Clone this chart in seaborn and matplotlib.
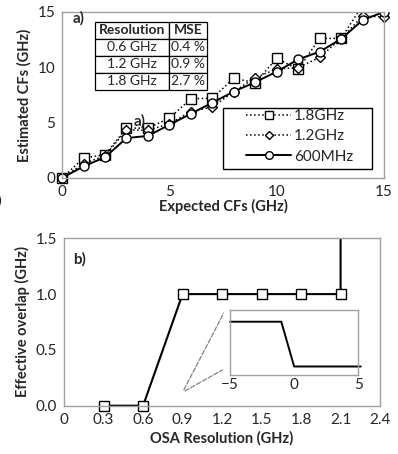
import numpy as np
import pandas as pd
import seaborn as sns
import matplotlib.pyplot as plt
import matplotlib as mpl
from matplotlib.patches import Rectangle

sns.set_style('white')
mpl.rcParams['font.family'] = ['Lato', 'DejaVu Sans']

# Panel a) data: expected vs estimated centre frequencies
expected = [0, 1, 2, 3, 4, 5, 6, 7, 8, 9, 10, 11, 12, 13, 14, 15]
est_18 = [0, 1.8, 2.1, 4.5, 4.5, 5.4, 7.15, 7.2, 9.0, 8.6, 10.8, 9.8, 12.6, 12.6, 15.6, 16.0]
est_12 = [0, 1.3, 2.0, 4.35, 4.3, 4.9, 6.0, 6.4, 7.8, 9.05, 9.85, 9.95, 10.9, 12.6, 14.6, 14.55]
est_06 = [0, 1.05, 1.87, 3.6, 3.8, 4.8, 5.8, 6.8, 7.8, 8.65, 9.6, 10.7, 11.4, 12.55, 14.25, 15.0]

table_rows = [['Resolution', 'MSE'],
              ['0.6 GHz', '0.4 %'],
              ['1.2 GHz', '0.9 %'],
              ['1.8 GHz', '2.7 %']]

# Panel b) data: effective overlap vs OSA resolution (last point off scale)
osa_res = [0.3, 0.6, 0.9, 1.2, 1.5, 1.8, 2.1, 2.1]
overlap = [0.0, 0.0, 1.0, 1.0, 1.0, 1.0, 1.0, 2.0]

# Inset: edge profile
inset_x = [-5, -1, 0, 5.2]
inset_y = [1, 1, 0, 0]

grey = '#a0a0a0'
fig = plt.figure(figsize=(3.98, 4.54), dpi=100)

# ---- panel a)
ax = fig.add_axes([0.156, 0.608, 0.809, 0.366])
df = pd.DataFrame({'x': expected * 3,
                   'y': est_18 + est_12 + est_06,
                   'res': ['1.8GHz'] * 16 + ['1.2GHz'] * 16 + ['600MHz'] * 16})
styles = {'1.8GHz': dict(ls=':', marker='s', lw=1.1),
          '1.2GHz': dict(ls=':', marker='D', lw=1.1, ms=5),
          '600MHz': dict(ls='-', marker='o', lw=1.4)}
for name in ['1.8GHz', '1.2GHz', '600MHz']:
    d = df[df['res'] == name]
    kw = dict(ms=6.5)
    kw.update(styles[name])
    sns.lineplot(x='x', y='y', data=d, ax=ax, color='black', mfc='white',
                 mec='black', mew=1.0, label=name, **kw)
ax.set_xlim(0, 15)
ax.set_ylim(0, 15)
ax.set_xticks([0, 5, 10, 15])
ax.set_yticks([0, 5, 10, 15])
ax.set_xlabel('Expected CFs (GHz)', fontsize=10.5, fontweight='bold', labelpad=0)
ax.set_ylabel('Estimated CFs (GHz)', fontsize=10.5, fontweight='bold', labelpad=4)
ax.tick_params(axis='both', which='both', direction='in', length=3, color=grey,
               labelsize=11, pad=5)
for _, loc in ax.spines.items():
    loc.set_color(grey)
    loc.set_linewidth(1.0)
# let the markers at the origin show, but clip anything above the top edge
clip_a = Rectangle((-0.06, -0.06), 1.2, 1.06, transform=ax.transAxes,
                   fill=False, visible=False)
ax.add_patch(clip_a)
for line in ax.lines:
    line.set_clip_path(clip_a)

# legend box (Excel style: wide padding)
ax.add_patch(Rectangle((0.5, 0.054), 0.463, 0.367, transform=ax.transAxes,
                       facecolor='white', edgecolor='black', lw=1.0, zorder=4.5))
leg = ax.legend(loc='upper left', bbox_to_anchor=(0.57, 0.415), fontsize=11,
                frameon=False, handlelength=3.0, labelspacing=0.42,
                borderpad=0, handletextpad=0.15, borderaxespad=0,
                markerscale=0.85)
leg.set_zorder(5)
ax.text(0.034, 0.96, 'a)', transform=ax.transAxes, fontsize=11,
        fontweight='bold', va='center', ha='left')
ax.text(3.35, 5.1, 'a)', fontsize=11, fontweight='bold', va='center', ha='left')

tab = ax.table(cellText=table_rows, cellLoc='center',
               bbox=[0.102, 0.53, 0.348, 0.41], colWidths=[0.66, 0.34])
tab.auto_set_font_size(False)
tab.set_fontsize(10)
for (r, c), cell in tab.get_celld().items():
    cell.set_linewidth(0.9)
    cell.set_facecolor('white')
    cell.PAD = 0.03
    if r == 0:
        cell.get_text().set_fontweight('bold')

# ---- panel b)
bx = fig.add_axes([0.161, 0.1064, 0.794, 0.3687])
sns.lineplot(x=osa_res, y=overlap, ax=bx, color='black', lw=1.5, marker='s',
             ms=7.5, mfc='white', mec='black', mew=1.0, markevery=list(range(7)),
             sort=False, estimator=None)
bx.set_xlim(0, 2.4)
bx.set_ylim(0, 1.5)
bx.set_xticks(np.arange(0, 2.41, 0.3))
bx.set_xticklabels(['0', '0.3', '0.6', '0.9', '1.2', '1.5', '1.8', '2.1', '2.4'])
bx.set_yticks([0, 0.5, 1.0, 1.5])
bx.set_yticklabels(['0.0', '0.5', '1.0', '1.5'])
bx.set_xlabel('OSA Resolution (GHz)', fontsize=10.5, fontweight='bold', labelpad=3)
bx.set_ylabel('Effective overlap (GHz)', fontsize=10.5, fontweight='bold', labelpad=4)
bx.tick_params(axis='both', which='both', direction='in', length=3, color=grey,
               labelsize=11, pad=5)
bx.tick_params(axis='y', length=0)
for _, loc in bx.spines.items():
    loc.set_color(grey)
    loc.set_linewidth(1.0)
clip_b = Rectangle((-0.06, -0.08), 1.2, 1.08, transform=bx.transAxes,
                   fill=False, visible=False)
bx.add_patch(clip_b)
for line in bx.lines:
    line.set_clip_path(clip_b)
bx.text(0.028, 0.876, 'b)', transform=bx.transAxes, fontsize=11,
        fontweight='bold', va='center', ha='left')

# inset
ix = fig.add_axes([0.578, 0.174, 0.322, 0.143])
ix.plot(inset_x, inset_y, color='black', lw=1.4, clip_on=False)
ix.set_xlim(-5, 5)
ix.set_ylim(-0.19, 1.26)
ix.set_xticks([-5, 0, 5])
ix.set_yticks([])
ix.tick_params(axis='x', length=0, labelsize=11, pad=2)
for _, loc in ix.spines.items():
    loc.set_color(grey)
    loc.set_linewidth(1.0)

# zoom guide lines from panel b) point to inset
for yy in [0.99, 0.1]:
    bx.annotate('', xy=(-0.04, yy), xycoords=ix.transAxes,
                xytext=(0.9, 0.12), textcoords='data',
                arrowprops=dict(arrowstyle='-', ls='--', color='#808080', lw=0.9))

fig.text(-0.006, 0.557, ')', fontsize=10, va='center', ha='left')

fig.savefig('out.png', dpi=100)
